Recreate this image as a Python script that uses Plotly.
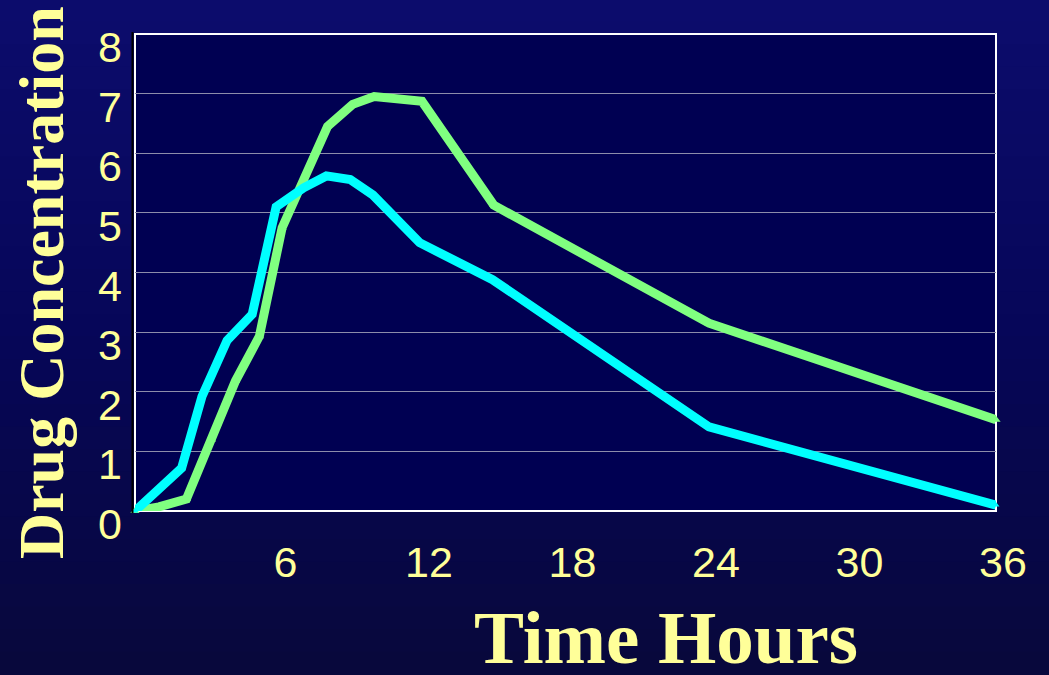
import plotly.graph_objects as go

# ---- data ----
green_t = [0, 1.0, 2.15, 3.2, 4.2, 5.2, 6.15, 8.05, 9.1, 10.0, 12.0, 15.0, 24.0, 36.0]
green_c = [0, 0.07, 0.2, 1.2, 2.18, 2.93, 4.75, 6.45, 6.82, 6.95, 6.87, 5.13, 3.15, 1.53]

cyan_t = [0, 0.85, 1.95, 2.8, 3.85, 4.9, 5.9, 7.05, 8.0, 9.0, 9.95, 11.9, 14.95, 24.0, 36.0]
cyan_c = [0, 0.31, 0.72, 1.92, 2.86, 3.3, 5.1, 5.42, 5.62, 5.56, 5.3, 4.5, 3.88, 1.41, 0.1]

x_ticks = [6, 12, 18, 24, 30, 36]
y_ticks = [0, 1, 2, 3, 4, 5, 6, 7, 8]

W, H = 1049, 675
ML, MR, MT, MB = 135, 53, 34, 164
PW, PH = W - ML - MR, H - MT - MB

YELLOW = "#FFFF99"

fig = go.Figure()
fig.add_trace(go.Scatter(x=green_t, y=green_c, mode="lines+markers",
                         line=dict(color="#80FF80", width=9),
                         marker=dict(symbol="triangle-up", size=8, color="#80FF80"),
                         showlegend=False, cliponaxis=False))
fig.add_trace(go.Scatter(x=cyan_t, y=cyan_c, mode="lines+markers",
                         line=dict(color="#00FFFF", width=9),
                         marker=dict(symbol="triangle-up", size=6, color="#00FFFF"),
                         showlegend=False, cliponaxis=False))

# background gradient bands (paper)
shapes = []
n = 30
top = (12, 12, 108)
mid = (6, 6, 88)
bot = (8, 8, 60)
x0p, x1p = -ML / PW, 1 + MR / PW
y_lo, y_hi = -MB / PH, 1 + MT / PH
for i in range(n):
    f = i / (n - 1)
    if f < 0.5:
        g = f / 0.5
        c = [round(top[k] + (mid[k] - top[k]) * g) for k in range(3)]
    else:
        g = (f - 0.5) / 0.5
        c = [round(mid[k] + (bot[k] - mid[k]) * g) for k in range(3)]
    ya = y_hi - (y_hi - y_lo) * i / n
    yb = y_hi - (y_hi - y_lo) * (i + 1) / n
    shapes.append(dict(type="rect", xref="paper", yref="paper",
                       x0=x0p, x1=x1p, y0=yb, y1=ya + 0.002,
                       fillcolor=f"rgb({c[0]},{c[1]},{c[2]})",
                       line=dict(width=0), layer="below"))
# plot area
shapes.append(dict(type="rect", xref="x domain", yref="y domain", x0=0, x1=1, y0=0, y1=1,
                   fillcolor="#000052", line=dict(width=0), layer="below"))
# black line just left of plot border
shapes.append(dict(type="line", xref="x domain", yref="y domain",
                   xsizemode="pixel", xanchor=0, x0=-2.5, x1=-2.5, y0=-0.004, y1=1.004,
                   line=dict(color="black", width=2), layer="above"))
# plot border
shapes.append(dict(type="rect", xref="x domain", yref="y domain", x0=0, x1=1, y0=0, y1=1,
                   line=dict(color="white", width=2), fillcolor="rgba(0,0,0,0)", layer="below"))

fig.update_layout(
    width=W, height=H,
    margin=dict(l=ML, r=MR, t=MT, b=MB),
    paper_bgcolor="#07075A",
    plot_bgcolor="rgba(0,0,0,0)",
    shapes=shapes,
    xaxis=dict(range=[0, 36], tickvals=x_ticks, ticktext=[str(v) for v in x_ticks],
               showgrid=False, zeroline=False, showline=False,
               tickfont=dict(family="Liberation Sans, Arial", size=43, color=YELLOW),
               ticks="", ticklabelstandoff=22, ticklabelshift=7),
    yaxis=dict(range=[0, 8], tickvals=y_ticks, ticktext=[str(v) for v in y_ticks],
               showgrid=True, gridcolor="#8C8CAA", gridwidth=1, zeroline=False, showline=False,
               tickfont=dict(family="Liberation Sans, Arial", size=43, color=YELLOW),
               ticks="", ticklabelstandoff=12, ticklabelshift=13),
    annotations=[
        dict(text="<b>Time Hours</b>", xref="paper", yref="paper",
             x=(666 - ML) / PW, y=(511 - 638) / PH, xanchor="center", yanchor="middle",
             showarrow=False,
             font=dict(family="Liberation Serif, Times New Roman", size=75, color=YELLOW)),
        dict(text="<b>Drug Concentration</b>", xref="paper", yref="paper",
             x=(41 - ML) / PW, y=(511 - 283) / PH, xanchor="center", yanchor="middle",
             textangle=-90, showarrow=False,
             font=dict(family="Liberation Serif, Times New Roman", size=64, color=YELLOW)),
    ],
)

fig.write_html("out.html", config={"displayModeBar": False},
               post_script="document.body.style.margin='0';document.body.style.overflow='hidden';")
